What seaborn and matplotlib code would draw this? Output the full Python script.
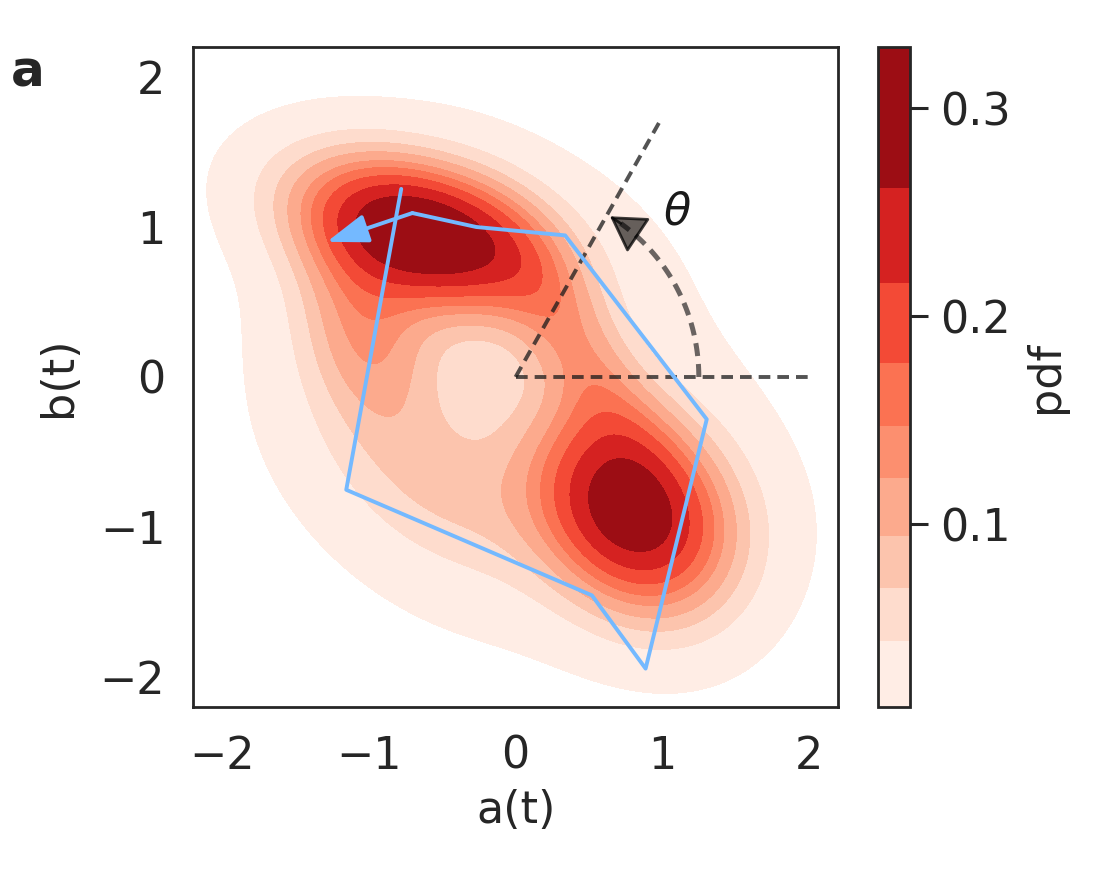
import numpy as np
import seaborn as sns
from matplotlib import pyplot as plt

# joint pdf of (a, b), read off the picture as a few gaussian bumps:
# centre, spread along / across the tilted axis, tilt in degrees, height
bump_a = [-0.63, 0.77, -1.03, 1.15, 0.40, -0.50, -0.75, 0.00]
bump_b = [0.96, -0.90, 0.30, -0.85, 0.22, -0.75, -0.65, -0.05]
bump_su = [0.57, 0.50, 0.45, 0.50, 0.58, 0.55, 0.75, 1.20]
bump_sv = [0.30, 0.38, 0.30, 0.40, 0.22, 0.32, 0.45, 1.00]
bump_tilt = [-17, -50, -70, -30, -58, -35, -40, -45]
bump_height = [0.32, 0.27, 0.10, 0.03, 0.08, 0.04, 0.016, 0.028]

# contour levels as shown on the colour bar
pdf_levels = [0.0123, 0.0439, 0.0697, 0.0944, 0.1223, 0.1471, 0.1778, 0.2161, 0.2617, 0.3294]
cbar_ticks = [0.1, 0.2, 0.3]

# sample trajectory, last step drawn as an arrow
traj_a = [-0.78, -1.155, 0.521, 0.887, 1.304, 0.338, -0.268, -0.704, -1.287]
traj_b = [1.254, -0.752, -1.456, -1.944, -0.282, 0.944, 1.0, 1.093, 0.901]

theta_deg = 60
ray_len = 2.0
arc_r = 1.25
axis_ticks = [-2, -1, 0, 1, 2]


def main():
    sns.set_theme(style="white", rc={"axes.linewidth": 1.0, "axes.edgecolor": ".15"})
    plt.rcParams["font.family"] = ["DejaVu Sans"]

    grid = np.linspace(-2.2, 2.2, 441)
    A, B = np.meshgrid(grid, grid)
    pdf = np.zeros_like(A)
    for ca, cb, su, sv, tilt, h in zip(bump_a, bump_b, bump_su, bump_sv, bump_tilt, bump_height):
        t = np.deg2rad(tilt)
        u = (A - ca) * np.cos(t) + (B - cb) * np.sin(t)
        v = -(A - ca) * np.sin(t) + (B - cb) * np.cos(t)
        pdf += h * np.exp(-0.5 * ((u / su) ** 2 + (v / sv) ** 2))
    pdf = np.minimum(pdf, pdf_levels[-1])

    fig = plt.figure(figsize=(5.5, 4.4))
    ax = fig.add_axes([0.1755, 0.1966, 0.5864, 0.75])
    cax = fig.add_axes([0.798, 0.1966, 0.029, 0.75])

    cs = ax.contourf(A, B, pdf, levels=pdf_levels, cmap="Reds")

    # angle construction
    th = np.deg2rad(theta_deg)
    ax.plot([0, ray_len], [0, 0], ls=(0, (3, 1.8)), color="k", alpha=0.75, lw=1.4)
    ax.plot([0, ray_len * np.cos(th)], [0, ray_len * np.sin(th)], ls=(0, (3, 1.8)),
            color="k", alpha=0.75, lw=1.4)
    arc = np.linspace(0, np.deg2rad(theta_deg - 5), 60)
    ax.plot(arc_r * np.cos(arc), arc_r * np.sin(arc), ls=(0, (2.6, 1.6)), color="k", alpha=0.65, lw=1.8)
    tip = np.deg2rad(theta_deg - 1)
    tail = np.deg2rad(theta_deg - 5)
    ax.annotate("", xy=(arc_r * np.cos(tip), arc_r * np.sin(tip)),
                xytext=(arc_r * np.cos(tail), arc_r * np.sin(tail)),
                arrowprops=dict(arrowstyle="-|>,head_length=0.55,head_width=0.33", mutation_scale=20,
                                fc=(0, 0, 0, 0.6), ec=(0, 0, 0, 0.75), lw=1.0, shrinkA=0, shrinkB=0))
    ax.text(1.1, 1.1, r"$\theta$", fontsize=16, ha="center", va="center", color="k")

    # trajectory
    sns.lineplot(x=traj_a[:-1], y=traj_b[:-1], sort=False, estimator=None,
                 color="#74b9ff", lw=1.4, ax=ax)
    ax.annotate("", xy=(traj_a[-1], traj_b[-1]), xytext=(traj_a[-2], traj_b[-2]),
                arrowprops=dict(arrowstyle="-|>,head_length=0.63,head_width=0.22", mutation_scale=20,
                                color="#74b9ff", lw=1.4, shrinkA=0, shrinkB=0))

    ax.set_xlim(-2.2, 2.2)
    ax.set_ylim(-2.2, 2.2)
    ax.set_xticks(axis_ticks)
    ax.set_yticks(axis_ticks)
    ax.tick_params(labelsize=16, length=0, pad=10)
    ax.set_xlabel("a(t)", fontsize=16, labelpad=4)
    ax.set_ylabel("b(t)", fontsize=16, labelpad=7)

    cbar = fig.colorbar(cs, cax=cax, spacing="proportional", ticks=cbar_ticks)
    cbar.ax.set_yticklabels([f"{t:.1f}" for t in cbar_ticks])
    cbar.ax.tick_params(labelsize=16, length=6.3, width=1.1, pad=4.5, right=True, color=".15")
    cbar.outline.set_linewidth(1.0)
    cbar.outline.set_edgecolor(".15")
    cbar.set_label("pdf", fontsize=16, labelpad=5)

    fig.text(0.025, 0.918, "a", fontsize=18, fontweight="bold", ha="center", va="center")

    plt.savefig("out.png", dpi=200)
    plt.close()


if __name__ == '__main__':
    main()
